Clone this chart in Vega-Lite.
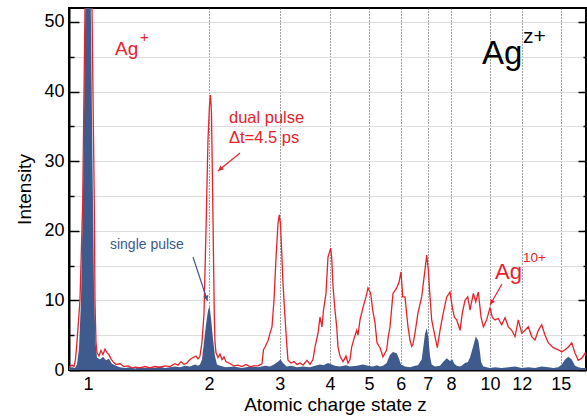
{
"$schema": "https://vega.github.io/schema/vega-lite/v6.json",
"width": 517, "height": 362,
"autosize": "none",
"padding": {"left": 69, "top": 8, "right": 1, "bottom": 49},
"background": "white",
"config": {
  "view": {"stroke": "black", "strokeWidth": 2},
  "axis": {"domainColor": "black", "domainWidth": 2, "labelFont": "Liberation Sans", "titleFont": "Liberation Sans", "labelColor": "black", "titleColor": "black", "labelFontSize": 18, "titleFontSize": 19, "titleFontWeight": "normal"}
},
"datasets": {
"dual": [{"z":0.897,"v":0.4},{"z":0.9124,"v":0.7},{"z":0.9229,"v":0.5},{"z":0.9309,"v":1.5},{"z":0.9389,"v":4},{"z":0.9552,"v":10},{"z":0.9701,"v":24},{"z":0.983,"v":52},{"z":0.9914,"v":68},{"z":1.0029,"v":80},{"z":1.0144,"v":68},{"z":1.0232,"v":52},{"z":1.0368,"v":24},{"z":1.0409,"v":10},{"z":1.0469,"v":4},{"z":1.0529,"v":2.5},{"z":1.065,"v":2},{"z":1.0773,"v":2.8},{"z":1.0897,"v":2.2},{"z":1.1023,"v":3.0},{"z":1.1148,"v":2.5},{"z":1.1277,"v":2.2},{"z":1.1407,"v":1.6},{"z":1.1538,"v":1.2},{"z":1.1738,"v":0.8},{"z":1.201,"v":0.9},{"z":1.2289,"v":0.5},{"z":1.2574,"v":0.6},{"z":1.2865,"v":0.3},{"z":1.3163,"v":0.4},{"z":1.3468,"v":0.3},{"z":1.386,"v":0.5},{"z":1.4262,"v":0.3},{"z":1.4678,"v":0.5},{"z":1.5104,"v":0.4},{"z":1.5543,"v":0.6},{"z":1.5995,"v":0.5},{"z":1.646,"v":0.9},{"z":1.6745,"v":0.7},{"z":1.7035,"v":1.2},{"z":1.733,"v":0.8},{"z":1.7631,"v":1.0},{"z":1.7936,"v":1.5},{"z":1.8247,"v":1.8},{"z":1.8564,"v":2.0},{"z":1.8777,"v":1.6},{"z":1.8993,"v":2},{"z":1.9212,"v":4},{"z":1.9433,"v":8},{"z":1.9657,"v":20},{"z":1.9883,"v":33},{"z":2.0054,"v":38},{"z":2.017,"v":39.5},{"z":2.0285,"v":37},{"z":2.0461,"v":22},{"z":2.0613,"v":8},{"z":2.0696,"v":4},{"z":2.0815,"v":2.5},{"z":2.1055,"v":1.8},{"z":2.1297,"v":2.3},{"z":2.1544,"v":1.5},{"z":2.1792,"v":1.9},{"z":2.2043,"v":1.2},{"z":2.2554,"v":0.9},{"z":2.3077,"v":0.6},{"z":2.3612,"v":0.7},{"z":2.4159,"v":0.5},{"z":2.4719,"v":0.8},{"z":2.5293,"v":0.5},{"z":2.5879,"v":0.6},{"z":2.6479,"v":0.6},{"z":2.7092,"v":0.9},{"z":2.7326,"v":2.9},{"z":2.7562,"v":3.3},{"z":2.8039,"v":4.2},{"z":2.8362,"v":5.3},{"z":2.8689,"v":6.2},{"z":2.9019,"v":10},{"z":2.9353,"v":16},{"z":2.9691,"v":21},{"z":2.9913,"v":22.3},{"z":3.012,"v":21},{"z":3.0327,"v":17},{"z":3.0554,"v":12.5},{"z":3.0906,"v":7.6},{"z":3.1209,"v":3.9},{"z":3.1442,"v":1.4},{"z":3.1987,"v":1.0},{"z":3.2542,"v":1.2},{"z":3.3106,"v":0.8},{"z":3.368,"v":1.0},{"z":3.4264,"v":0.7},{"z":3.5058,"v":1.4},{"z":3.5665,"v":0.8},{"z":3.6284,"v":1.5},{"z":3.6702,"v":3.3},{"z":3.7338,"v":5.3},{"z":3.7768,"v":7.6},{"z":3.8203,"v":6.2},{"z":3.8532,"v":8.6},{"z":3.9088,"v":11},{"z":3.9538,"v":16.2},{"z":4.0155,"v":17.5},{"z":4.0386,"v":16.2},{"z":4.0687,"v":12},{"z":4.1156,"v":8.6},{"z":4.1559,"v":6.2},{"z":4.1869,"v":3.3},{"z":4.2352,"v":2.0},{"z":4.3085,"v":1.2},{"z":4.3832,"v":2.0},{"z":4.4337,"v":1.0},{"z":4.4847,"v":1.5},{"z":4.5286,"v":3.3},{"z":4.5887,"v":4.5},{"z":4.6603,"v":5.7},{"z":4.6951,"v":5.0},{"z":4.7492,"v":7.2},{"z":4.8315,"v":9},{"z":4.9152,"v":10.5},{"z":4.9718,"v":11.8},{"z":5.0495,"v":11},{"z":5.1077,"v":8.6},{"z":5.1754,"v":6.8},{"z":5.235,"v":3.9},{"z":5.3257,"v":3.2},{"z":5.418,"v":1.9},{"z":5.5341,"v":2.9},{"z":5.5755,"v":4.5},{"z":5.6397,"v":6.2},{"z":5.7375,"v":11},{"z":5.8604,"v":11.8},{"z":5.9381,"v":12.6},{"z":6.0064,"v":14.1},{"z":6.0653,"v":10.5},{"z":6.1457,"v":10.5},{"z":6.2522,"v":6.2},{"z":6.3241,"v":4.3},{"z":6.3859,"v":3.4},{"z":6.4337,"v":3.7},{"z":6.5078,"v":5.3},{"z":6.6206,"v":8.2},{"z":6.7624,"v":10.5},{"z":6.8914,"v":14.4},{"z":6.9589,"v":16.5},{"z":7.0229,"v":14.4},{"z":7.0917,"v":10.5},{"z":7.1611,"v":7.2},{"z":7.2977,"v":4.8},{"z":7.3947,"v":3.2},{"z":7.5099,"v":5.7},{"z":7.6535,"v":8.2},{"z":7.8042,"v":10.5},{"z":7.9533,"v":11.2},{"z":8.0588,"v":9},{"z":8.1516,"v":7.6},{"z":8.2643,"v":7.2},{"z":8.4225,"v":5.7},{"z":8.5342,"v":8.2},{"z":8.6674,"v":10},{"z":8.8025,"v":10.5},{"z":8.9193,"v":8.6},{"z":9.0896,"v":11},{"z":9.2153,"v":9.8},{"z":9.3538,"v":11.2},{"z":9.4996,"v":7.6},{"z":9.6259,"v":6.2},{"z":9.8128,"v":7.2},{"z":10.0,"v":9},{"z":10.133,"v":7.6},{"z":10.291,"v":7.2},{"z":10.487,"v":7.4},{"z":10.693,"v":6.5},{"z":10.898,"v":7.5},{"z":11.106,"v":6.2},{"z":11.324,"v":5.7},{"z":11.54,"v":4.8},{"z":11.76,"v":7.2},{"z":11.992,"v":5.3},{"z":12.221,"v":5.7},{"z":12.454,"v":6.2},{"z":12.699,"v":4.8},{"z":12.942,"v":4.3},{"z":13.189,"v":5.7},{"z":13.449,"v":6.5},{"z":13.706,"v":5.0},{"z":13.967,"v":3.9},{"z":14.373,"v":3.2},{"z":14.791,"v":2.9},{"z":15.082,"v":2.6},{"z":15.37,"v":2.9},{"z":15.663,"v":3.3},{"z":15.971,"v":3.9},{"z":16.276,"v":2.4},{"z":16.586,"v":1.4},{"z":16.913,"v":1.7},{"z":17.236,"v":2.4},{"z":17.335,"v":2.0}],
"single": [{"z":0.897,"v":0.3},{"z":0.9124,"v":0.4},{"z":0.9283,"v":0.3},{"z":0.9389,"v":0.8},{"z":0.9498,"v":3},{"z":0.9607,"v":10},{"z":0.9718,"v":25},{"z":0.983,"v":48},{"z":0.9914,"v":65},{"z":1.0,"v":72},{"z":1.0086,"v":65},{"z":1.0173,"v":50},{"z":1.0261,"v":30},{"z":1.035,"v":12},{"z":1.0439,"v":4},{"z":1.0529,"v":1.8},{"z":1.0711,"v":1.5},{"z":1.0897,"v":1.9},{"z":1.1086,"v":1.4},{"z":1.1277,"v":1.6},{"z":1.1472,"v":0.9},{"z":1.1738,"v":0.6},{"z":1.201,"v":0.4},{"z":1.236,"v":0.3},{"z":1.2719,"v":0.4},{"z":1.3088,"v":0.2},{"z":1.3468,"v":0.4},{"z":1.386,"v":0.3},{"z":1.4262,"v":0.4},{"z":1.4678,"v":0.3},{"z":1.5104,"v":0.5},{"z":1.5543,"v":0.3},{"z":1.5995,"v":0.4},{"z":1.646,"v":0.5},{"z":1.6938,"v":0.4},{"z":1.743,"v":0.6},{"z":1.7936,"v":0.5},{"z":1.8458,"v":0.8},{"z":1.8777,"v":0.6},{"z":1.8993,"v":0.8},{"z":1.9212,"v":1.5},{"z":1.9433,"v":4},{"z":1.9657,"v":6.5},{"z":1.9883,"v":8.5},{"z":2.0054,"v":9.2},{"z":2.0227,"v":7.5},{"z":2.0461,"v":4.5},{"z":2.0696,"v":2},{"z":2.0935,"v":0.8},{"z":2.1297,"v":0.6},{"z":2.2043,"v":0.4},{"z":2.3077,"v":0.5},{"z":2.4159,"v":0.3},{"z":2.5293,"v":0.5},{"z":2.6479,"v":0.4},{"z":2.7562,"v":0.6},{"z":2.8362,"v":0.5},{"z":2.9019,"v":0.8},{"z":2.9691,"v":1.2},{"z":3.012,"v":1.5},{"z":3.0554,"v":1.0},{"z":3.1209,"v":0.5},{"z":3.1987,"v":0.6},{"z":3.3106,"v":0.4},{"z":3.4264,"v":0.5},{"z":3.5665,"v":0.4},{"z":3.6702,"v":0.6},{"z":3.7768,"v":0.8},{"z":3.8532,"v":0.7},{"z":3.9538,"v":1.0},{"z":4.0386,"v":0.8},{"z":4.1156,"v":0.6},{"z":4.2352,"v":0.5},{"z":4.3832,"v":0.7},{"z":4.4847,"v":0.5},{"z":4.6603,"v":0.6},{"z":4.8315,"v":0.8},{"z":4.9718,"v":0.6},{"z":5.1077,"v":0.5},{"z":5.235,"v":0.7},{"z":5.3257,"v":0.5},{"z":5.418,"v":0.6},{"z":5.5341,"v":1.0},{"z":5.5755,"v":1.5},{"z":5.6397,"v":2.2},{"z":5.7375,"v":2.6},{"z":5.8604,"v":2.4},{"z":5.9381,"v":1.6},{"z":6.0064,"v":0.8},{"z":6.1457,"v":0.5},{"z":6.3241,"v":0.4},{"z":6.5078,"v":0.6},{"z":6.6206,"v":0.7},{"z":6.7624,"v":1.5},{"z":6.8324,"v":3.5},{"z":6.8914,"v":5.2},{"z":6.9589,"v":6.0},{"z":7.0229,"v":4.8},{"z":7.0917,"v":2.0},{"z":7.1611,"v":0.8},{"z":7.2977,"v":0.5},{"z":7.5099,"v":0.6},{"z":7.6535,"v":1.2},{"z":7.8042,"v":1.7},{"z":7.9533,"v":1.3},{"z":8.0588,"v":1.5},{"z":8.1516,"v":0.9},{"z":8.2643,"v":0.6},{"z":8.4225,"v":0.5},{"z":8.5342,"v":0.7},{"z":8.6674,"v":1.0},{"z":8.8025,"v":1.1},{"z":8.9193,"v":1.8},{"z":9.0896,"v":3.5},{"z":9.2153,"v":4.8},{"z":9.3538,"v":4.2},{"z":9.4453,"v":2.5},{"z":9.4996,"v":1.2},{"z":9.6259,"v":0.5},{"z":9.8128,"v":0.4},{"z":10.0,"v":0.3},{"z":10.291,"v":0.4},{"z":10.693,"v":0.3},{"z":11.106,"v":0.4},{"z":11.54,"v":0.5},{"z":11.992,"v":0.3},{"z":12.454,"v":0.4},{"z":12.942,"v":0.3},{"z":13.449,"v":0.5},{"z":13.967,"v":0.4},{"z":14.373,"v":0.3},{"z":14.791,"v":0.4},{"z":15.082,"v":0.8},{"z":15.37,"v":1.5},{"z":15.663,"v":1.9},{"z":15.971,"v":1.5},{"z":16.276,"v":0.6},{"z":16.586,"v":0.4},{"z":16.913,"v":0.3},{"z":17.335,"v":0.3}]
},
"encoding": {
  "x": {"field": "z", "type": "quantitative",
        "scale": {"type": "log", "domain": [0.897, 17.33], "nice": false},
        "axis": {"values": [1,2,3,4,5,6,7,8,10,12,15], "format": "d", "ticks": false, "grid": true, "gridDash": [1,2], "gridColor": "#444", "gridWidth": 1, "labelPadding": 5, "labelFlush": false, "title": "Atomic charge state z", "titlePadding": 2, "titleX": 266}}
},
"layer": [
  {"data": {"name": "single"},
   "mark": {"type": "area", "color": "#3f5a8c", "clip": true},
   "encoding": {"y": {"field": "v", "type": "quantitative", "scale": {"domain": [0, 52], "nice": false},
     "axis": {"orient": "left", "values": [0,5,10,15,20,25,30,35,40,45,50],
       "labelExpr": "datum.value % 10 === 0 ? datum.label : ''",
       "tickSize": {"condition": {"test": "datum.value % 10 === 0", "value": -10}, "value": -5},
       "tickColor": "black", "tickWidth": 1.5, "labelPadding": 15, "title": "Intensity", "titlePadding": 9}}}},
  {"data": {"name": "dual"},
   "mark": {"type": "line", "color": "#e8222b", "strokeWidth": 1.3, "clip": true},
   "encoding": {"y": {"field": "v", "type": "quantitative", "scale": {"domain": [0, 52], "nice": false},
     "axis": {"orient": "right", "values": [0,5,10,15,20,25,30,35,40,45,50], "labels": false,
       "tickSize": {"condition": {"test": "datum.value % 10 === 0", "value": -8}, "value": -3},
       "tickColor": "black", "tickWidth": 1.5, "title": null}}}},
  {"data": {"values": [{"z": 2.3884, "v": 31.18, "z2": 2.1055, "v2": 28.59}, {"z": 10.711, "v": 12.36, "z2": 10.0, "v2": 9.34}]},
   "mark": {"type": "rule", "color": "#e8222b", "strokeWidth": 1.2},
   "encoding": {"y": {"field": "v", "type": "quantitative", "scale": {"domain": [0, 52]}, "axis": null}, "x2": {"field": "z2"}, "y2": {"field": "v2"}}},
  {"data": {"values": [{"z": 1.8247, "v": 16.24, "z2": 1.9826, "v2": 9.91}]},
   "mark": {"type": "rule", "color": "#3d5a8e", "strokeWidth": 1.2},
   "encoding": {"y": {"field": "v", "type": "quantitative", "scale": {"domain": [0, 52]}, "axis": null}, "x2": {"field": "z2"}, "y2": {"field": "v2"}}},
  {"data": {"values": [{"z": 2.1334, "v": 28.87}]},
   "mark": {"type": "point", "shape": "triangle-up", "size": 30, "filled": true, "opacity": 1, "color": "#e8222b", "angle": 230.7},
   "encoding": {"y": {"field": "v", "type": "quantitative", "scale": {"domain": [0, 52]}, "axis": null}}},
  {"data": {"values": [{"z": 10.086, "v": 9.71}]},
   "mark": {"type": "point", "shape": "triangle-up", "size": 30, "filled": true, "opacity": 1, "color": "#e8222b", "angle": 209.7},
   "encoding": {"y": {"field": "v", "type": "quantitative", "scale": {"domain": [0, 52]}, "axis": null}}},
  {"data": {"values": [{"z": 1.9724, "v": 10.32}]},
   "mark": {"type": "point", "shape": "triangle-up", "size": 30, "filled": true, "opacity": 1, "color": "#3d5a8e", "angle": 161.8},
   "encoding": {"y": {"field": "v", "type": "quantitative", "scale": {"domain": [0, 52]}, "axis": null}}},
  {"data": {"values": [{"z": 1.1671, "v": 45.26, "t": "Ag"}]},
   "mark": {"type": "text", "align": "left", "baseline": "alphabetic", "font": "Liberation Sans", "fontSize": 19, "color": "#e8222b"},
   "encoding": {"y": {"field": "v", "type": "quantitative", "scale": {"domain": [0, 52]}, "axis": null}, "text": {"field": "t"}}},
  {"data": {"values": [{"z": 1.3468, "v": 47.13, "t": "+"}]},
   "mark": {"type": "text", "align": "left", "baseline": "alphabetic", "font": "Liberation Sans", "fontSize": 15, "color": "#e8222b"},
   "encoding": {"y": {"field": "v", "type": "quantitative", "scale": {"domain": [0, 52]}, "axis": null}, "text": {"field": "t"}}},
  {"data": {"values": [{"z": 9.552, "v": 43.97, "t": "Ag"}]},
   "mark": {"type": "text", "align": "left", "baseline": "alphabetic", "font": "Liberation Sans", "fontSize": 33, "color": "black"},
   "encoding": {"y": {"field": "v", "type": "quantitative", "scale": {"domain": [0, 52]}, "axis": null}, "text": {"field": "t"}}},
  {"data": {"values": [{"z": 12.081, "v": 46.98, "t": "z+"}]},
   "mark": {"type": "text", "align": "left", "baseline": "alphabetic", "font": "Liberation Sans", "fontSize": 21, "color": "black"},
   "encoding": {"y": {"field": "v", "type": "quantitative", "scale": {"domain": [0, 52]}, "axis": null}, "text": {"field": "t"}}},
  {"data": {"values": [{"z": 2.2426, "v": 35.45, "t": "dual pulse"}, {"z": 2.2426, "v": 32.57, "t": "Δt=4.5 ps"}]},
   "mark": {"type": "text", "align": "left", "baseline": "alphabetic", "font": "Liberation Sans", "fontSize": 16.5, "color": "#e8222b"},
   "encoding": {"y": {"field": "v", "type": "quantitative", "scale": {"domain": [0, 52]}, "axis": null}, "text": {"field": "t"}}},
  {"data": {"values": [{"z": 1.1342, "v": 17.39, "t": "single pulse"}]},
   "mark": {"type": "text", "align": "left", "baseline": "alphabetic", "font": "Liberation Sans", "fontSize": 14, "color": "#3d5a8e"},
   "encoding": {"y": {"field": "v", "type": "quantitative", "scale": {"domain": [0, 52]}, "axis": null}, "text": {"field": "t"}}},
  {"data": {"values": [{"z": 10.291, "v": 13.07, "t": "Ag"}]},
   "mark": {"type": "text", "align": "left", "baseline": "alphabetic", "font": "Liberation Sans", "fontSize": 22, "color": "#e8222b"},
   "encoding": {"y": {"field": "v", "type": "quantitative", "scale": {"domain": [0, 52]}, "axis": null}, "text": {"field": "t"}}},
  {"data": {"values": [{"z": 12.081, "v": 15.45, "t": "10+"}]},
   "mark": {"type": "text", "align": "left", "baseline": "alphabetic", "font": "Liberation Sans", "fontSize": 13.5, "color": "#e8222b"},
   "encoding": {"y": {"field": "v", "type": "quantitative", "scale": {"domain": [0, 52]}, "axis": null}, "text": {"field": "t"}}}
],
"resolve": {"scale": {"y": "shared"}, "axis": {"y": "independent"}}
}
